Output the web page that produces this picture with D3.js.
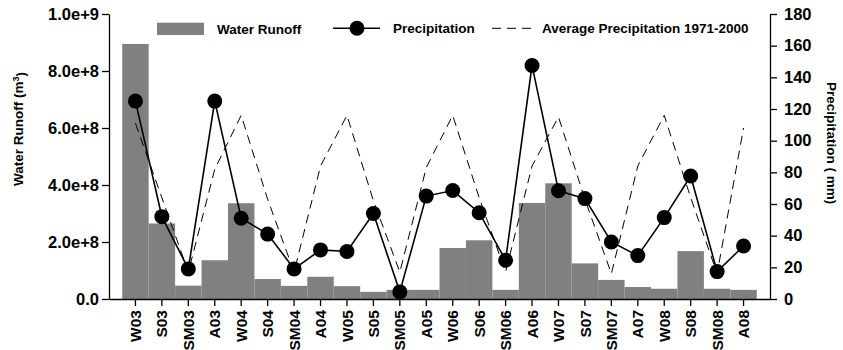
<!DOCTYPE html>
<html>
<head>
<meta charset="utf-8">
<script src="https://cdn.jsdelivr.net/npm/d3@7"></script>
<style>
  body { margin: 0; background: #fff; }
  svg { display: block; font-family: Arial, "Liberation Sans", sans-serif; font-weight: bold; }
</style>
</head>
<body>
<svg id="chart" width="843" height="350"></svg>
<script>
// seasons: W = winter, S = spring, SM = summer, A = autumn
const seasons = ['W03', 'S03', 'SM03', 'A03', 'W04', 'S04', 'SM04', 'A04',
  'W05', 'S05', 'SM05', 'A05', 'W06', 'S06', 'SM06', 'A06',
  'W07', 'S07', 'SM07', 'A07', 'W08', 'S08', 'SM08', 'A08'];

// water runoff (m3), left axis
const runoff = [8.95e8, 2.65e8, 4.7e7, 1.36e8, 3.36e8, 7.0e7, 4.6e7, 7.8e7,
  4.5e7, 2.5e7, 3.2e7, 3.2e7, 1.79e8, 2.06e8, 3.2e7, 3.37e8,
  4.06e8, 1.25e8, 6.7e7, 4.2e7, 3.6e7, 1.68e8, 3.6e7, 3.2e7];

// precipitation (mm), right axis
const precip = [125, 52, 19, 125, 51, 41, 19, 31,
  30, 54, 4.5, 65, 68.5, 54.5, 24.5, 147.5,
  68.4, 63.4, 36, 27.4, 51.4, 77.7, 17.3, 33.5];

// average precipitation 1971-2000 (mm)
const avgPrecip = [111, 64, 17, 82, 116, 63, 17, 84,
  116, 62, 17, 83, 116, 64, 17, 84,
  115, 63, 16, 84, 116, 64, 16, 108];

const leftTicks = [0, 2e8, 4e8, 6e8, 8e8, 1e9];
const rightTicks = [0, 20, 40, 60, 80, 100, 120, 140, 160, 180];

const plot = { left: 109, right: 770, top: 14, bottom: 299 };
const barColor = '#808080';

const svg = d3.select('#chart');

const x = d3.scaleBand()
  .domain(seasons)
  .range([plot.left, plot.right])
  .paddingInner(0)
  .paddingOuter(0.5);

const yL = d3.scaleLinear().domain([0, 1e9]).range([plot.bottom, plot.top]);
const yR = d3.scaleLinear().domain([0, 180]).range([plot.bottom, plot.top]);

const cx = function (d, i) { return x(seasons[i]) + x.bandwidth() / 2; };

// bars
svg.append('g')
  .selectAll('rect')
  .data(runoff)
  .enter()
  .append('rect')
  .attr('x', function (d, i) { return x(seasons[i]); })
  .attr('y', function (d) { return yL(d); })
  .attr('width', x.bandwidth())
  .attr('height', function (d) { return plot.bottom - yL(d); })
  .attr('fill', barColor);

// average precipitation (dashed)
const lineR = d3.line().x(cx).y(function (d) { return yR(d); });

svg.append('path')
  .datum(avgPrecip)
  .attr('d', lineR)
  .attr('fill', 'none')
  .attr('stroke', '#000')
  .attr('stroke-width', 1)
  .attr('stroke-dasharray', '9,6');

// precipitation line + markers
svg.append('path')
  .datum(precip)
  .attr('d', lineR)
  .attr('fill', 'none')
  .attr('stroke', '#000')
  .attr('stroke-width', 1.6);

svg.append('g')
  .selectAll('circle')
  .data(precip)
  .enter()
  .append('circle')
  .attr('cx', cx)
  .attr('cy', function (d) { return yR(d); })
  .attr('r', 7.5)
  .attr('fill', '#000');

// axes
const fmtL = function (d) { return d === 0 ? '0.0' : d3.format('.1e')(d); };

const axL = svg.append('g')
  .attr('transform', 'translate(' + plot.left + ',0)')
  .call(d3.axisLeft(yL).tickValues(leftTicks).tickFormat(fmtL).tickSize(7).tickSizeOuter(0).tickPadding(3));

const axR = svg.append('g')
  .attr('transform', 'translate(' + plot.right + ',0)')
  .call(d3.axisRight(yR).tickValues(rightTicks).tickSize(7).tickSizeOuter(0).tickPadding(7));

const axB = svg.append('g')
  .attr('transform', 'translate(0,' + plot.bottom + ')')
  .call(d3.axisBottom(x).tickSize(7).tickSizeOuter(0));

[axL, axR, axB].forEach(function (ax) {
  ax.select('.domain').attr('stroke', '#000').attr('stroke-width', 1.3);
  ax.selectAll('.tick line').attr('stroke', '#000').attr('stroke-width', 1.3);
  ax.selectAll('text')
    .attr('fill', '#000')
    .style('font-size', '16.5px')
    .style('font-family', 'Arial, "Liberation Sans", sans-serif')
    .style('font-weight', 'bold');
});

axB.selectAll('.tick text')
  .style('font-size', '15.5px')
  .attr('transform', 'rotate(-90)')
  .attr('text-anchor', 'end')
  .attr('x', -11)
  .attr('y', 0)
  .attr('dy', '0.36em');

// axis titles
const leftTitle = svg.append('text')
  .attr('transform', 'translate(23,129) rotate(-90)')
  .attr('text-anchor', 'middle')
  .style('font-size', '13.5px')
  .text('Water Runoff (m');
leftTitle.append('tspan').attr('dy', '-0.4em').style('font-size', '9px').text('3');
leftTitle.append('tspan').attr('dy', '0.4em').text(')');

svg.append('text')
  .attr('transform', 'translate(827,143) rotate(90)')
  .attr('text-anchor', 'middle')
  .style('font-size', '13.5px')
  .text('Precipitation ( mm)');

// legend
const legend = svg.append('g').style('font-size', '13.5px');

legend.append('rect')
  .attr('x', 157).attr('y', 22.7).attr('width', 47).attr('height', 12.3)
  .attr('fill', barColor);
legend.append('text').attr('x', 217).attr('y', 34).text('Water Runoff');

legend.append('line')
  .attr('x1', 333).attr('x2', 380).attr('y1', 28.3).attr('y2', 28.3)
  .attr('stroke', '#000').attr('stroke-width', 1.6);
legend.append('circle').attr('cx', 357).attr('cy', 28.3).attr('r', 7.5).attr('fill', '#000');
legend.append('text').attr('x', 393).attr('y', 33.3).text('Precipitation');

legend.append('line')
  .attr('x1', 492).attr('x2', 537).attr('y1', 28.3).attr('y2', 28.3)
  .attr('stroke', '#000').attr('stroke-width', 1).attr('stroke-dasharray', '9,6');
legend.append('text').attr('x', 542).attr('y', 33.3).text('Average Precipitation 1971-2000');
</script>
</body>
</html>
